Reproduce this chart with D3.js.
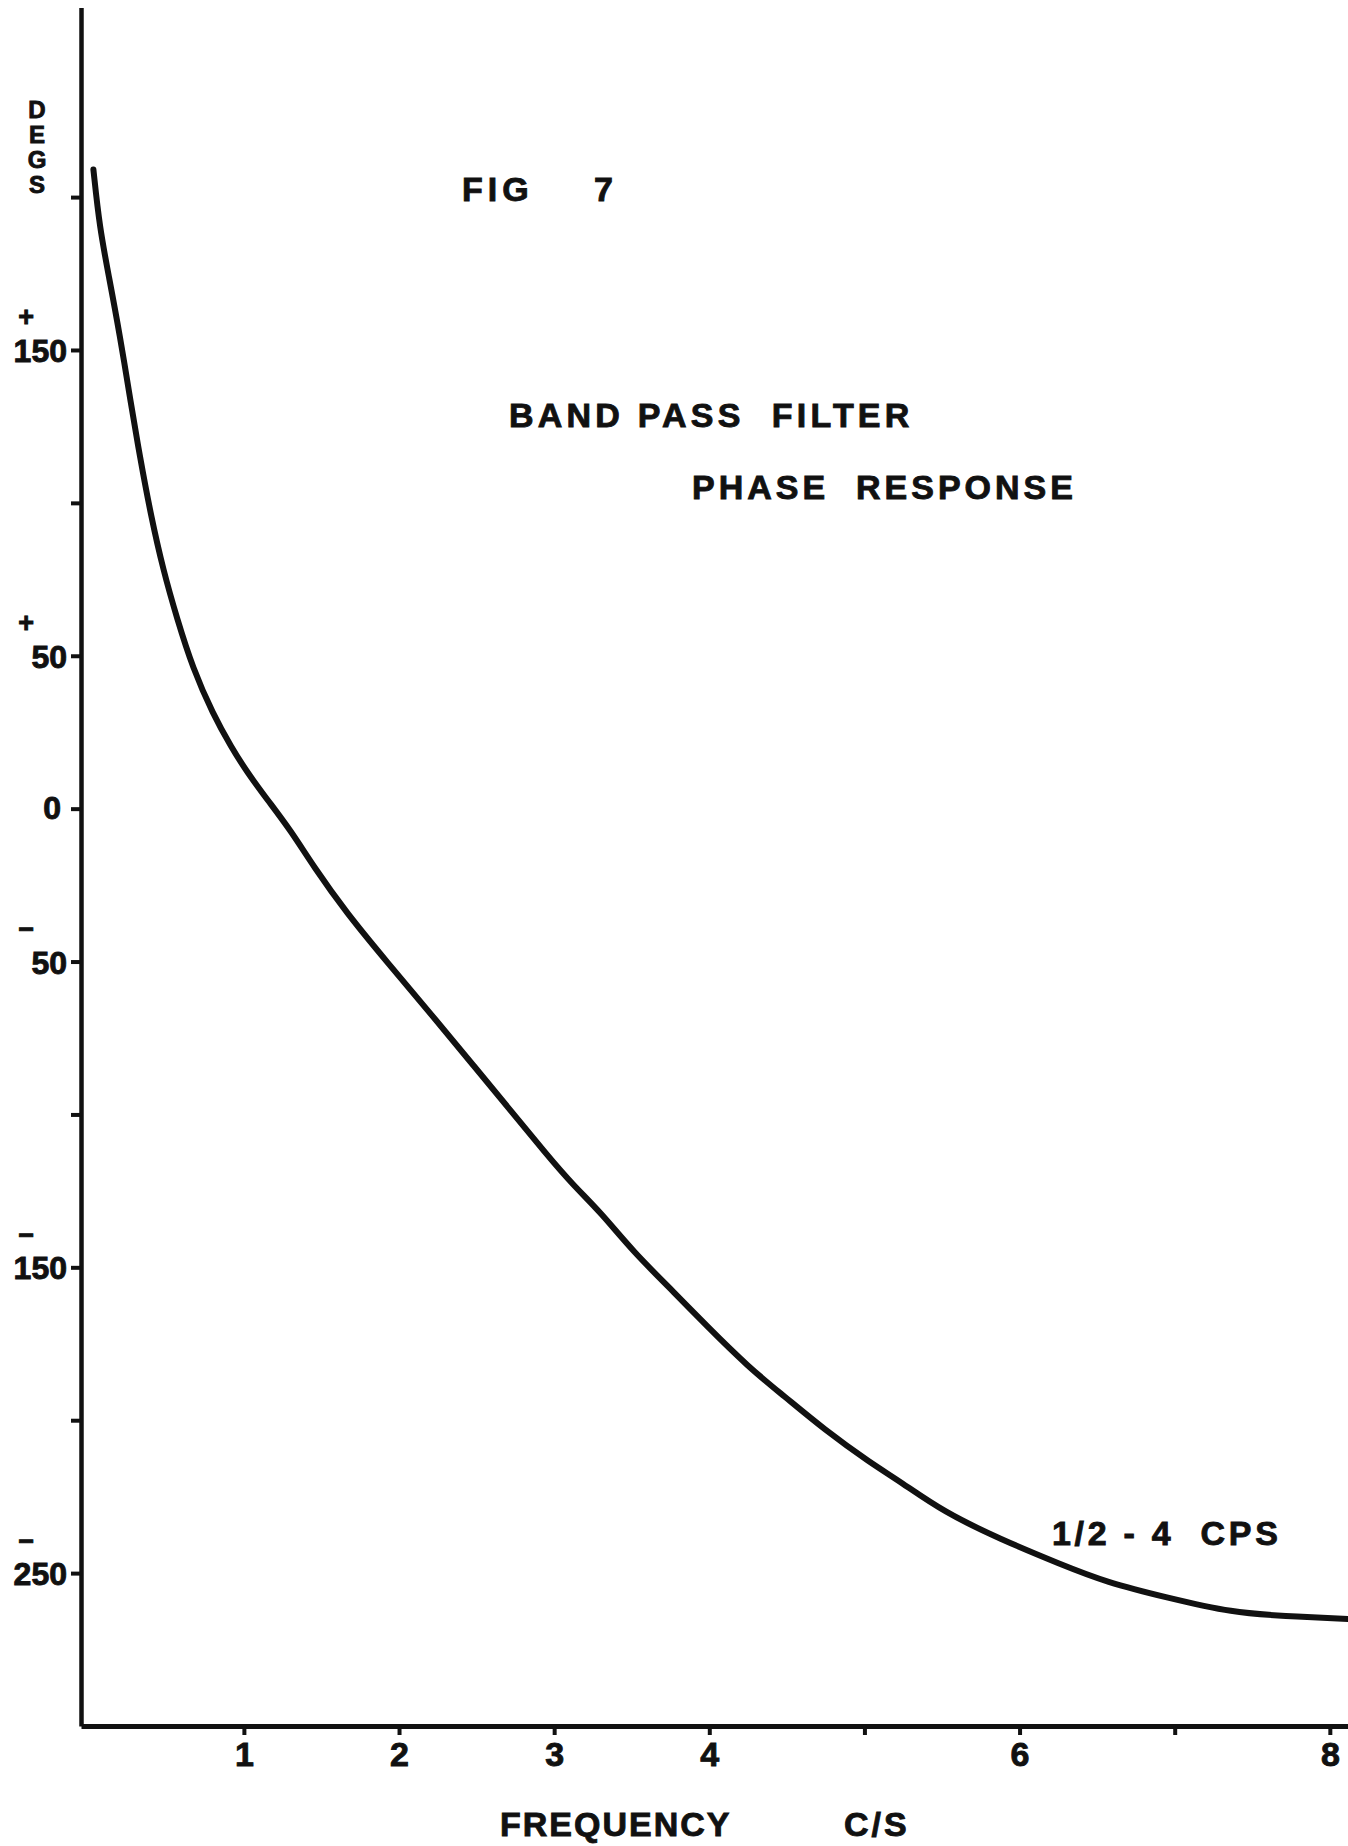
<!DOCTYPE html>
<html>
<head>
<meta charset="utf-8">
<script src="https://cdn.jsdelivr.net/npm/d3@7"></script>
<style>
body { margin: 0; background: #fff; }
svg text { font-family: "Liberation Sans", Arial, sans-serif; font-weight: bold; fill: #111; stroke: #111; stroke-width: 0.9px; white-space: pre; }
</style>
</head>
<body>
<div id="chart"></div>
<script>
// phase response of the 1/2 - 4 cps band pass filter
var freq  = [0.03, 0.07, 0.13, 0.20, 0.27, 0.33, 0.40, 0.48, 0.57, 0.67,
             0.80, 0.92, 1.02, 1.15, 1.30, 1.45, 1.66, 1.92, 2.22, 2.48,
             2.74, 2.95, 3.12, 3.30, 3.51, 3.79, 3.96, 4.26, 4.48, 4.74,
             5.04, 5.23, 5.51, 5.88, 6.26, 6.56, 6.95, 7.38, 7.70, 8.12];
var phase = [209, 190, 174, 155, 133, 115, 96, 78, 62, 46,
             31, 20, 12, 3, -7, -19, -34, -50, -68, -84,
             -100, -113, -123, -132, -145, -159, -168, -183, -192, -203,
             -214, -220, -230, -239, -247, -253, -258, -263, -264, -265];

var yTicks = [200, 150, 100, 50, 0, -50, -100, -150, -200, -250];
var yLabelled = [150, 50, 0, -50, -150, -250];
var xTicks = [1, 2, 3, 4, 5, 6, 7, 8];
var xLabelled = [1, 2, 3, 4, 6, 8];

var width = 1348, height = 1846;

var svg = d3.select("#chart").append("svg")
    .attr("width", width)
    .attr("height", height);

var x = d3.scaleLinear().domain([-0.05, 8.13]).range([81, 1350]);
var y = d3.scaleLinear().domain([-300, 262]).range([1726, 7.5]);

// vertical axis (degrees)
var yAxis = svg.append("g")
    .attr("transform", "translate(" + x(-0.05) + ",0)")
    .call(d3.axisLeft(y)
        .tickValues(yTicks)
        .tickSize(10)
        .tickSizeOuter(0)
        .tickPadding(4)
        .tickFormat(function(d) { return yLabelled.indexOf(d) < 0 ? "" : Math.abs(d); }));

yAxis.attr("font-size", 32);
yAxis.select(".domain").attr("stroke", "#111").attr("stroke-width", 4.5);
yAxis.selectAll(".tick line").attr("stroke", "#111").attr("stroke-width", 4);
yAxis.selectAll(".tick text").filter(function(d) { return d === 0; }).attr("x", -20);

// the + and - signs sit above the numbers, in the same text as the number
yAxis.selectAll(".tick text")
    .filter(function(d) { return d !== 0 && yLabelled.indexOf(d) >= 0; })
    .attr("dy", null)
    .each(function(d) {
      var t = d3.select(this).text("");
      t.append("tspan")
          .attr("x", -47)
          .attr("y", -24)
          .attr("font-size", 27)
          .text(d > 0 ? "+" : "\u2212");
      t.append("tspan")
          .attr("x", -14)
          .attr("y", 11.5)
          .text(Math.abs(d));
    });

// horizontal axis (frequency)
var xAxis = svg.append("g")
    .attr("transform", "translate(0," + y(-300) + ")")
    .call(d3.axisBottom(x)
        .tickValues(xTicks)
        .tickSize(9)
        .tickSizeOuter(0)
        .tickFormat(function(d) { return xLabelled.indexOf(d) < 0 ? "" : d; }));

xAxis.attr("font-size", 34);
xAxis.select(".domain").attr("stroke", "#111").attr("stroke-width", 5);
xAxis.selectAll(".tick line").attr("stroke", "#111").attr("stroke-width", 4);
xAxis.selectAll(".tick text").attr("y", 16).attr("dy", "0.71em");

// the curve
var line = d3.line()
    .x(function(d, i) { return x(freq[i]); })
    .y(function(d, i) { return y(phase[i]); })
    .curve(d3.curveBasis);

svg.append("path")
    .datum(freq)
    .attr("d", line)
    .attr("fill", "none")
    .attr("stroke", "#111")
    .attr("stroke-width", 6)
    .attr("stroke-linecap", "round")
    .attr("stroke-linejoin", "round");

// lettering
svg.append("text")
    .attr("x", 37)
    .attr("y", 96)
    .attr("font-size", 24)
    .attr("letter-spacing", -2)
    .style("writing-mode", "vertical-rl")
    .style("text-orientation", "upright")
    .text("DEGS");

function label(txt, px, py, size, spacing) {
  return svg.append("text")
      .attr("x", px)
      .attr("y", py)
      .attr("font-size", size)
      .attr("letter-spacing", spacing)
      .text(txt);
}

var fig = label("FIG", 462, 201, 34, 5);
fig.append("tspan").attr("x", 594).text("7");

label("BAND PASS  FILTER", 509, 427, 34, 4.2);
label("PHASE  RESPONSE", 692, 499, 34, 4);
label("FREQUENCY", 500, 1836, 34, 2);
label("C/S", 844, 1836, 34, 3);
label("1/2 - 4  CPS", 1052, 1545, 34, 3.7);
</script>
</body>
</html>
